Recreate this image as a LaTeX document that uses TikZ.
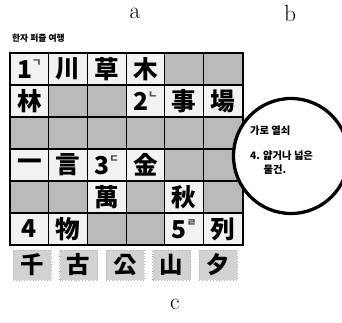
\documentclass[tikz,border=0pt]{standalone}
\usepackage{fontspec}
\newfontfamily\kr{Noto Sans CJK KR}
\usetikzlibrary{positioning}

\newcommand{\clue}[2]{#1\raisebox{0.9ex}{\fontsize{9}{9}\selectfont\color{black!70}#2}}

\tikzset{
  cell/.style={draw, line width=1pt, fill=gray!55, minimum width=1.161cm,
               minimum height=0.96cm, inner sep=0pt},
  word/.style={cell, fill=gray!10, font=\kr\bfseries\fontsize{21}{21}\selectfont},
  tile/.style={fill=gray!35, draw=gray!60, dotted, minimum width=1.14cm,
               minimum height=0.9cm, inner sep=0pt, text=black,
               font=\kr\bfseries\fontsize{20}{20}\selectfont},
  letter/.style={font=\fontsize{20}{20}\selectfont}
}

\begin{document}
\begin{tikzpicture}[x=0.03cm, y=-0.03cm]
  \useasboundingbox (0,0) rectangle (342,322);

  \node[letter] (la) at (135,13) {a};
  \node[letter] (lb) at (290,13) {b};
  \node[letter] (lc) at (175,304) {c};

  \node[anchor=west, font=\kr\bfseries\fontsize{7.5}{7.5}\selectfont] (title) at (8,38) {한자 퍼즐 여행};

  % the board
  \foreach \r in {1,...,6}
    \foreach \c in {1,...,6}
      \node[cell] (g-\r-\c) at ({10+38.7*(\c-0.5)}, {53+32*(\r-0.5)}) {};

  \foreach \r/\c/\t in {1/1/\clue{1}{ㄱ}, 1/2/川, 1/3/草, 1/4/木,
                        2/1/林, 2/4/\clue{2}{ㄴ}, 2/5/事, 2/6/場,
                        4/1/一, 4/2/言, 4/3/\clue{3}{ㄷ}, 4/4/金,
                        5/3/萬, 5/5/秋,
                        6/1/4, 6/2/物, 6/5/\clue{5}{ㄹ}, 6/6/列}
    \node[word] (w-\r-\c) at (g-\r-\c) {\t};

  \draw[line width=1.4pt] (g-1-1.north west) rectangle (g-6-6.south east);

  % cards under the board
  \foreach \t [count=\i] in {千, 古, 公, 山, 夕}
    \node[tile] (k\i) at ({32+46.5*(\i-1)}, 265) {\t};

  % the hint
  \node[draw, circle, line width=2.8pt, minimum size=3.45cm, fill=white] (hint) at (291,156) {};
  \node[anchor=west, font=\kr\bfseries\fontsize{8.8}{12}\selectfont, align=left] (hinttext)
    at (246,150) {가로 열쇠\\[9pt]4. 얇거나 넓은\\\hspace{1.3em}물건.};
\end{tikzpicture}
\end{document}
